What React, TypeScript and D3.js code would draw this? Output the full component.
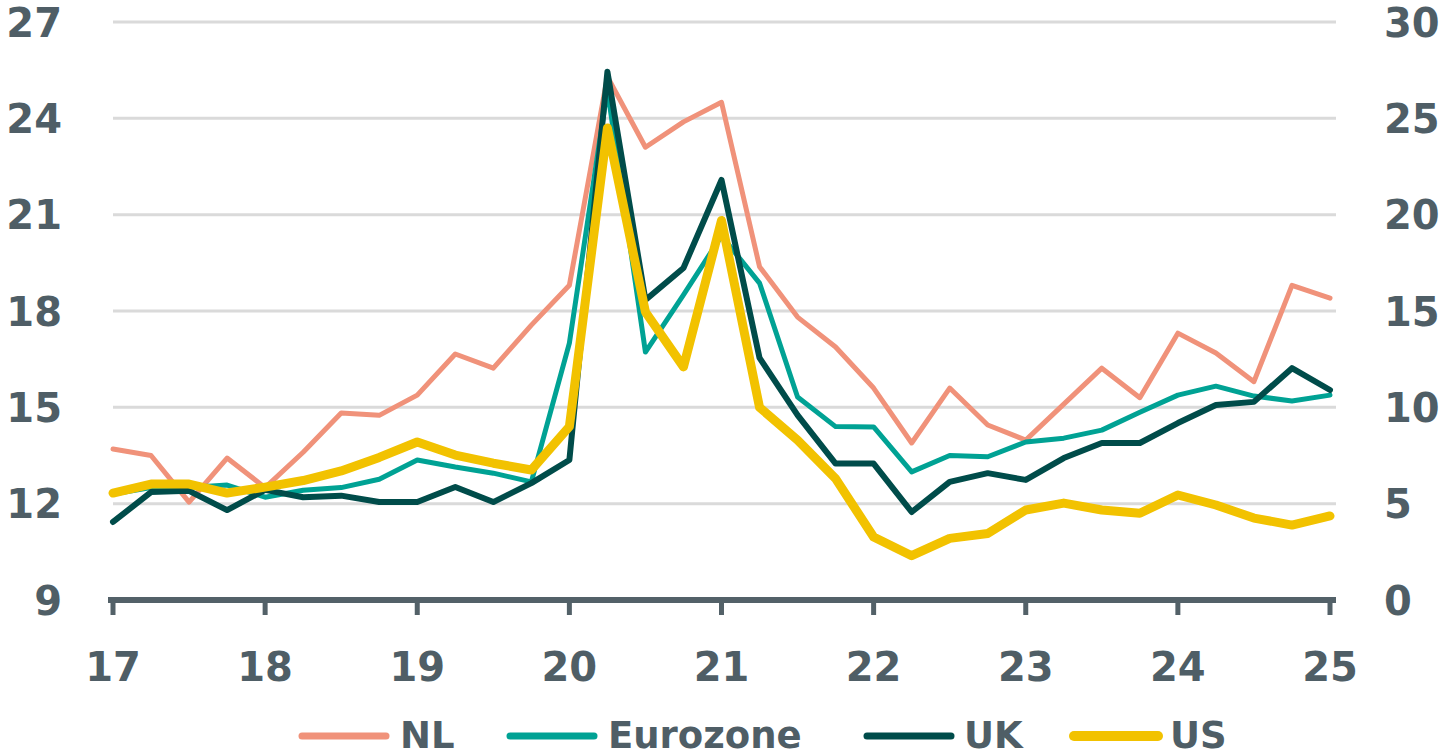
import React from "react";
import * as d3 from "d3";

const quarters: string[] = [
  "2017Q1","2017Q2","2017Q3","2017Q4","2018Q1","2018Q2","2018Q3","2018Q4",
  "2019Q1","2019Q2","2019Q3","2019Q4","2020Q1","2020Q2","2020Q3","2020Q4",
  "2021Q1","2021Q2","2021Q3","2021Q4","2022Q1","2022Q2","2022Q3","2022Q4",
  "2023Q1","2023Q2","2023Q3","2023Q4","2024Q1","2024Q2","2024Q3","2024Q4","2025Q1",
];

const nl: number[] = [
  13.7, 13.5, 12.05, 13.42, 12.5, 13.6, 14.82, 14.75, 15.38, 16.66, 16.22, 17.56,
  18.8, 25.3, 23.1, 23.89, 24.5, 19.38, 17.81, 16.88, 15.6, 13.89, 15.6, 14.45,
  13.98, 15.1, 16.22, 15.3, 17.31, 16.69, 15.8, 18.8, 18.4,
];

const eurozone: number[] = [
  12.3, 12.5, 12.5, 12.58, 12.2, 12.42, 12.5, 12.76, 13.36, 13.14, 12.95, 12.68,
  17.0, 24.9, 16.72, 18.5, 20.34, 18.87, 15.32, 14.4, 14.39, 12.99, 13.5, 13.46,
  13.92, 14.04, 14.29, 14.85, 15.38, 15.66, 15.35, 15.2, 15.38,
];

const uk: number[] = [
  11.43, 12.36, 12.4, 11.8, 12.43, 12.2, 12.25, 12.05, 12.05, 12.52, 12.05, 12.64,
  13.36, 25.45, 18.34, 19.34, 22.08, 16.54, 14.76, 13.25, 13.25, 11.74, 12.68, 12.95,
  12.74, 13.42, 13.89, 13.89, 14.51, 15.07, 15.17, 16.22, 15.54,
];

const us: number[] = [
  5.55, 6.02, 6.02, 5.55, 5.86, 6.2, 6.7, 7.4, 8.2, 7.52, 7.1, 6.75,
  9.0, 24.5, 14.95, 12.1, 19.7, 10.0, 8.3, 6.3, 3.27, 2.3, 3.2, 3.45,
  4.67, 5.03, 4.67, 4.5, 5.45, 4.93, 4.25, 3.89, 4.36,
];

const leftTicks: number[] = [9, 12, 15, 18, 21, 24, 27];
const rightTicks: number[] = [0, 5, 10, 15, 20, 25, 30];
const yearTicks: number[] = [2017, 2018, 2019, 2020, 2021, 2022, 2023, 2024, 2025];
const yearLabels: string[] = ["17", "18", "19", "20", "21", "22", "23", "24", "25"];

const seriesNames: string[] = ["NL", "Eurozone", "UK", "US"];
const seriesColors: string[] = ["#f0927a", "#00a294", "#004c4a", "#f2c200"];
const seriesWidths: number[] = [5, 5, 6, 9];

const W = 1442;
const H = 756;
const textColor = "#4f5e66";
const font = "'DejaVu Sans', sans-serif";

export default function App() {
  const x = d3.scaleLinear().domain([2017, 2025]).range([113, 1330]);
  const yL = d3.scaleLinear().domain([9, 27]).range([600, 22]);
  const yR = d3.scaleLinear().domain([0, 30]).range([600, 22]);

  const qx = (i: number) => x(2017 + i / 4);

  const lineL = d3
    .line<number>()
    .x((_, i) => qx(i))
    .y((d) => yL(d));
  const lineR = d3
    .line<number>()
    .x((_, i) => qx(i))
    .y((d) => yR(d));

  const data = [nl, eurozone, uk, us];
  const paths = data.map((s, k) => (k === 3 ? lineR(s) : lineL(s)));

  const legendLineX: number[] = [298, 506, 863, 1070];
  const legendTextX: number[] = [400, 608, 964, 1170];
  const legendY = 736;

  return (
    <div style={{ position: "fixed", left: 0, top: 0, width: W, height: H, background: "#fff" }}>
      <svg width={W} height={H} style={{ display: "block" }}>
        <rect x={0} y={0} width={W} height={H} fill="#fff" />
        {leftTicks.slice(1).map((t) => (
          <line
            key={"g" + t}
            x1={113}
            x2={1336}
            y1={yL(t)}
            y2={yL(t)}
            stroke="#dadada"
            strokeWidth={3}
          />
        ))}
        <line x1={108} x2={1336} y1={600} y2={600} stroke="#536168" strokeWidth={6} />
        {yearTicks.map((t) => (
          <line key={"t" + t} x1={x(t)} x2={x(t)} y1={600} y2={615} stroke="#536168" strokeWidth={5} />
        ))}
        {yearTicks.map((t, i) => (
          <text
            key={"xl" + t}
            x={x(t)}
            y={681}
            textAnchor="middle"
            fontFamily={font}
            fontWeight="bold"
            fontSize={40}
            fill={textColor}
          >
            {yearLabels[i]}
          </text>
        ))}
        {leftTicks.map((t) => (
          <text
            key={"yl" + t}
            x={62}
            y={yL(t) + 14.5}
            textAnchor="end"
            fontFamily={font}
            fontWeight="bold"
            fontSize={40}
            fill={textColor}
          >
            {t}
          </text>
        ))}
        {rightTicks.map((t) => (
          <text
            key={"yr" + t}
            x={1384}
            y={yR(t) + 14.5}
            textAnchor="start"
            fontFamily={font}
            fontWeight="bold"
            fontSize={40}
            fill={textColor}
          >
            {t}
          </text>
        ))}
        {paths.map((p, k) => (
          <path
            key={"p" + k}
            d={p || ""}
            fill="none"
            stroke={seriesColors[k]}
            strokeWidth={seriesWidths[k]}
            strokeLinejoin="round"
            strokeLinecap="round"
          />
        ))}
        {seriesNames.map((n, k) => (
          <g key={"lg" + n}>
            <line
              x1={legendLineX[k] + 4}
              x2={legendLineX[k] + 88}
              y1={legendY}
              y2={legendY}
              stroke={seriesColors[k]}
              strokeWidth={k === 3 ? 10 : 7}
              strokeLinecap="round"
            />
            <text
              x={legendTextX[k]}
              y={legendY + 12}
              fontFamily={font}
              fontWeight="bold"
              fontSize={37}
              fill={textColor}
            >
              {n}
            </text>
          </g>
        ))}
      </svg>
    </div>
  );
}
